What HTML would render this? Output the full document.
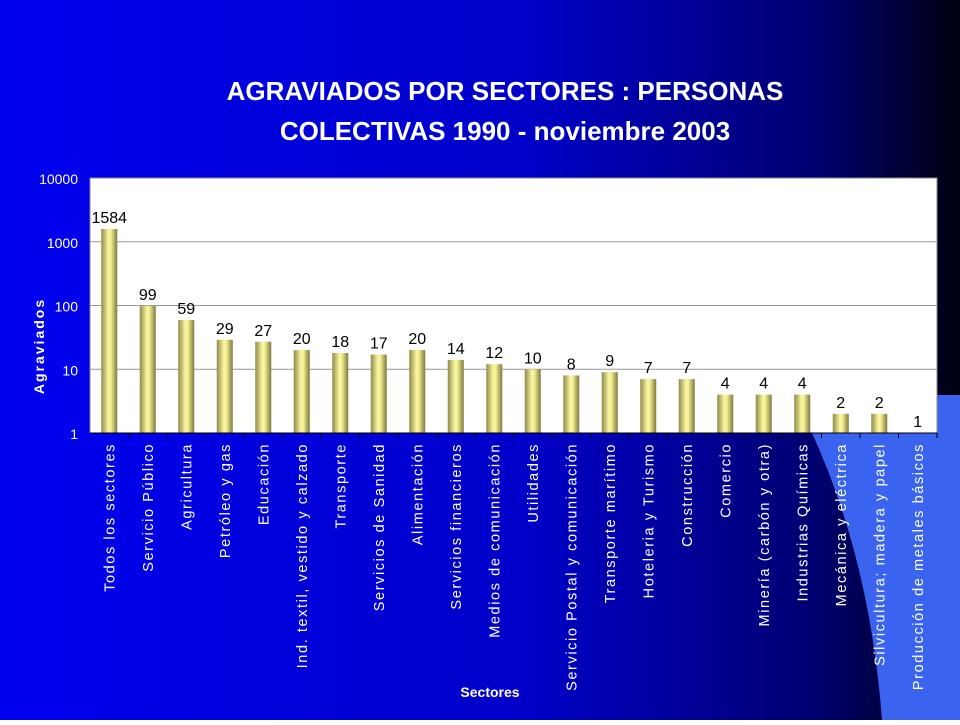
<!DOCTYPE html>
<html><head><meta charset="utf-8"><style>
body{margin:0;width:960px;height:720px;overflow:hidden;font-family:"Liberation Sans",sans-serif}
</style></head><body>
<svg width="960" height="720" xmlns="http://www.w3.org/2000/svg">
<defs>
<linearGradient id="bg" x1="0" y1="0" x2="1" y2="0">
<stop offset="0" stop-color="#0000f0"/><stop offset="0.55" stop-color="#0000c8"/><stop offset="0.85" stop-color="#000070"/><stop offset="1" stop-color="#000010"/>
</linearGradient>
<linearGradient id="bar" x1="0" y1="0" x2="1" y2="0">
<stop offset="0" stop-color="#8f8a4a"/><stop offset="0.45" stop-color="#fbf7a0"/><stop offset="0.6" stop-color="#f4ef90"/><stop offset="1" stop-color="#7d7840"/>
</linearGradient>
</defs>
<rect width="960" height="720" fill="url(#bg)"/>
<path d="M812 433 Q870 560 882 720 L960 720 L960 395 L937 395 L937 433 Z" fill="#3a64f0"/>
<text x="505" y="100" fill="#fff" font-size="26" font-weight="bold" text-anchor="middle">AGRAVIADOS POR SECTORES : PERSONAS</text>
<text x="505" y="140" fill="#fff" font-size="26" font-weight="bold" text-anchor="middle">COLECTIVAS 1990 - noviembre 2003</text>
<rect x="90" y="178" width="847" height="255" fill="#fff" stroke="#888"/>
<g id="grid"></g><g id="bars"></g><g id="ticks"></g>
<text transform="translate(44,346) rotate(-90)" fill="#fff" font-size="14" font-weight="bold" letter-spacing="2" text-anchor="middle">Agraviados</text>
<text x="490" y="697" fill="#fff" font-size="14" font-weight="bold" text-anchor="middle">Sectores</text>
</svg>
<script>
const categories=["Todos los sectores","Servicio Público","Agricultura","Petróleo y gas","Educación","Ind. textil, vestido y calzado","Transporte","Servicios de Sanidad","Alimentación","Servicios financieros","Medios de comunicación","Utilidades","Servicio Postal y comunicación","Transporte marítimo","Hoteleria y Turismo","Construcción","Comercio","Minería (carbón y otra)","Industrias Químicas","Mecánica y eléctrica","Silvicultura; madera y papel","Producción de metales básicos"];
const values=[1584,99,59,29,27,20,18,17,20,14,12,10,8,9,7,7,4,4,4,2,2,1];
const yTicks=[1,10,100,1000,10000];
const NS="http://www.w3.org/2000/svg";
const L=90,R=937,T=178,B=433;
const y=v=>B-(Math.log10(v)/4)*(B-T);
const step=(R-L)/categories.length;
const x=i=>L+step*(i+0.5);
const grid=document.getElementById('grid'),bars=document.getElementById('bars'),ticks=document.getElementById('ticks');
function mk(tag,attrs,parent,txt){const e=document.createElementNS(NS,tag);for(const k in attrs)e.setAttribute(k,attrs[k]);if(txt!==undefined)e.textContent=txt;parent.appendChild(e);return e;}
yTicks.forEach(t=>{
 if(t>1&&t<10000){const g=mk('line',{x1:L,x2:R,y1:y(t),y2:y(t),stroke:'#999'},grid);
 
 }
 const tl=mk('text',{x:L-12,y:y(t)+6,fill:'#fff','font-size':14,'text-anchor':'end'},ticks,String(t));
 
 
});
mk('line',{x1:L,x2:R,y1:B,y2:B,stroke:'#000'},ticks);
categories.forEach((c,i)=>{
 const v=values[i],cx=x(i);
 if(v>1){const b=mk('rect',{x:cx-8,y:y(v),width:16,height:B-y(v),fill:'url(#bar)'},bars);
 
 }
 const vl=mk('text',{x:cx,y:y(v)-6,fill:'#000','font-size':16,'text-anchor':'middle'},bars,String(v));
 
 
 const tk=mk('line',{x1:L+step*(i+1),x2:L+step*(i+1),y1:B,y2:B+5,stroke:'#000'},ticks);
 
 
 const cl=mk('text',{transform:`translate(${cx+5},443) rotate(-90)`,fill:'#fff','font-size':14.5,'letter-spacing':'1.6','text-anchor':'end'},ticks,c);
 
 
});
</script>
</body></html>
